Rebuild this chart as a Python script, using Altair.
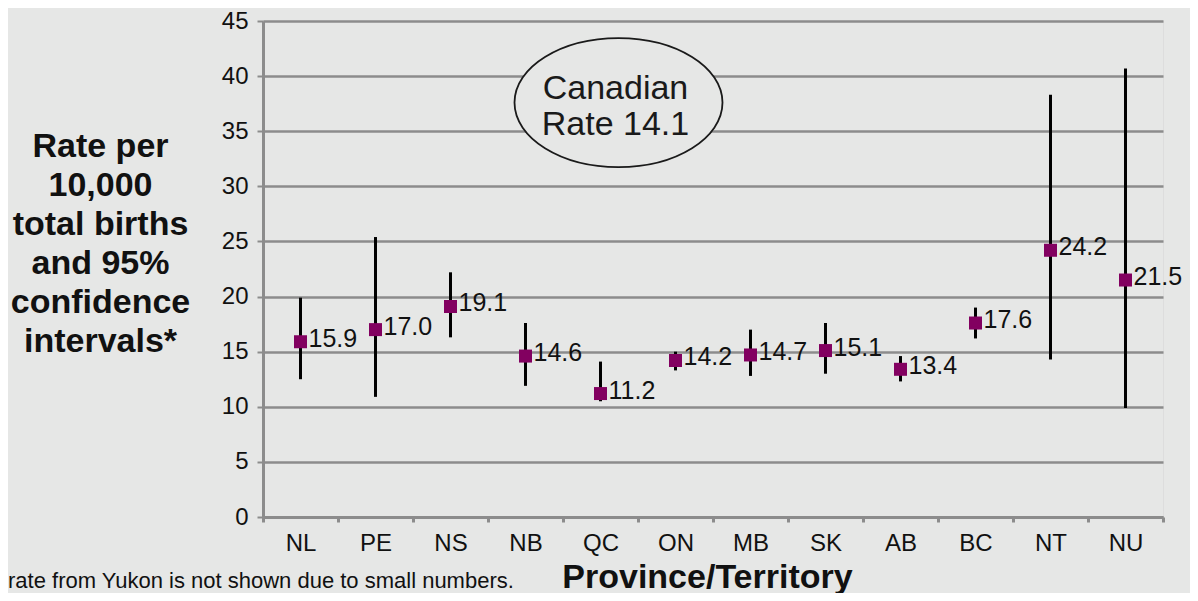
import altair as alt
import pandas as pd

provinces = ["NL", "PE", "NS", "NB", "QC", "ON", "MB", "SK", "AB", "BC", "NT", "NU"]
rates = [15.9, 17.0, 19.1, 14.6, 11.2, 14.2, 14.7, 15.1, 13.4, 17.6, 24.2, 21.5]
ci_low = [12.5, 10.9, 16.3, 11.9, 10.5, 13.3, 12.8, 13.0, 12.3, 16.2, 14.3, 9.9]
ci_high = [19.9, 25.4, 22.2, 17.6, 14.1, 15.0, 17.0, 17.6, 14.6, 19.0, 38.3, 40.7]
y_ticks = [0, 5, 10, 15, 20, 25, 30, 35, 40, 45]

canadian_label = ["Canadian", "Rate 14.1"]
canadian_anchor_prov = ["QC"]
canadian_anchor_y = [37.6]
canadian_text_y = [38.8]
footnote = "rate from Yukon is not shown due to small numbers."
y_title = ["Rate per", "10,000", "total births", "and 95%", "confidence", "intervals*"]

df = pd.DataFrame({"prov": provinces, "rate": rates, "lo": ci_low, "hi": ci_high})
ann = pd.DataFrame({"prov": canadian_anchor_prov, "y": canadian_anchor_y, "ty": canadian_text_y})

GRAY = "#8c8c8c"
BG = "#e6e7e6"
PURPLE = "#820060"
FONT = "Liberation Sans"

x_enc = alt.X(
    "prov:N",
    sort=provinces,
    scale=alt.Scale(type="band", paddingInner=0, paddingOuter=0),
    axis=alt.Axis(
        title="Province/Territory",
        labelAngle=0,
        tickBand="extent",
        ticks=True,
        tickSize=5,
        tickWidth=3,
        tickColor=GRAY,
        domainColor=GRAY,
        domainWidth=3,
        labelFontSize=24,
        labelPadding=9,
        labelColor="#111111",
        titleFontSize=34,
        titleFontWeight="bold",
        titleColor="#111111",
        titleX=444,
        titleY=70,
        titleAlign="center",
        titleBaseline="alphabetic",
        grid=False,
    ),
)

y_scale = alt.Scale(domain=[0, 45], nice=False)
y_axis = alt.Axis(
    title=y_title,
    values=y_ticks,
    grid=True,
    gridColor=GRAY,
    gridWidth=2.5,
    gridOpacity=1,
    domainColor=GRAY,
    domainWidth=3,
    tickColor=GRAY,
    tickWidth=2,
    tickSize=6,
    labelFontSize=24,
    labelPadding=9,
    labelColor="#111111",
    titleAngle=0,
    titleAlign="center",
    titleBaseline="middle",
    titleX=-163,
    titleY=125,
    titleFontSize=34,
    titleFontWeight="bold",
    titleLineHeight=39,
    titleColor="#111111",
)

base = alt.Chart(df)

rules = base.mark_rule(color="black", strokeWidth=3).encode(
    x=x_enc,
    y=alt.Y("lo:Q", scale=y_scale, axis=y_axis),
    y2="hi:Q",
)

points = base.mark_square(size=169, color=PURPLE, opacity=1).encode(
    x=alt.X("prov:N", sort=provinces),
    y=alt.Y("rate:Q"),
)

labels = base.mark_text(
    align="left", baseline="middle", dx=8, dy=-3, fontSize=25, color="#111111"
).encode(
    x=alt.X("prov:N", sort=provinces),
    y=alt.Y("rate:Q"),
    text=alt.Text("rate:Q", format=".1f"),
)

ellipse = alt.Chart(ann).mark_point(
    shape="M-1,0A1,0.62,0,1,1,1,0A1,0.62,0,1,1,-1,0Z",
    size=208 * 208,
    filled=True,
    fill=BG,
    fillOpacity=1,
    stroke="#1a1a1a",
    strokeWidth=1.8,
    opacity=1,
    xOffset=18,
).encode(
    x=alt.X("prov:N", sort=provinces),
    y=alt.Y("y:Q"),
)

ann_text = alt.Chart(ann).mark_text(
    text=canadian_label,
    fontSize=34,
    lineHeight=36,
    align="center",
    baseline="middle",
    color="#1a1a1a",
    xOffset=15,
).encode(
    x=alt.X("prov:N", sort=provinces),
    y=alt.Y("ty:Q"),
)

foot = alt.Chart(ann).mark_text(
    text=footnote, align="left", baseline="alphabetic", fontSize=22, color="#111111"
).encode(x=alt.value(-255), y=alt.value(567))

chart = (
    alt.layer(rules, points, labels, ellipse, ann_text, foot)
    .properties(
        width=900,
        height=496,
        autosize=alt.AutoSizeParams(type="none"),
        padding={"left": 255, "top": 13, "right": 27, "bottom": 76},
        background=BG,
    )
    .configure_view(fill="white", stroke=None)
    .configure(font=FONT)
)

chart.save("out.html", embed_options={"renderer": "svg", "actions": False})
